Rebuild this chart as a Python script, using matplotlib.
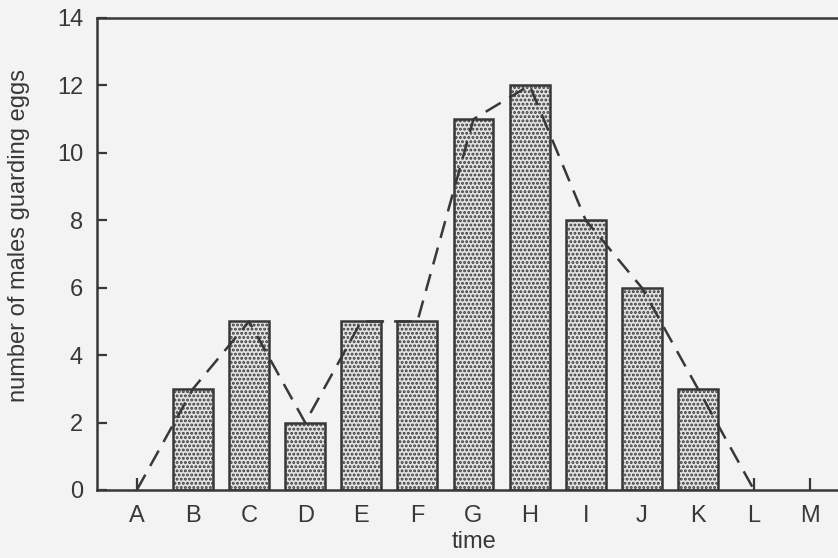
import matplotlib.pyplot as plt
import numpy as np

plt.rcParams['font.family'] = ['Liberation Sans', 'DejaVu Sans']

times = ['A', 'B', 'C', 'D', 'E', 'F', 'G', 'H', 'I', 'J', 'K', 'L', 'M']
males = [0, 3, 5, 2, 5, 5, 11, 12, 8, 6, 3, 0, 0]
# dashed trend line runs from A to L only
trend_labels = ['A', 'B', 'C', 'D', 'E', 'F', 'G', 'H', 'I', 'J', 'K', 'L']
trend = [0, 3, 5, 2, 5, 5, 11, 12, 8, 6, 3, 0]

ink = '#383838'
paper = '#f3f3f3'

fig = plt.figure(figsize=(8.38, 5.58), dpi=100, facecolor=paper)
W, H = 838, 558
# axes runs past the right edge, like the cropped scan
x0, x1 = 97, 850
ytop, ybot = 18, 490
ax = fig.add_axes([x0 / W, 1 - ybot / H, (x1 - x0) / W, (ybot - ytop) / H])
ax.set_facecolor(paper)

x = np.arange(len(times))
plt.rcParams['hatch.linewidth'] = 1.4
plt.rcParams['hatch.color'] = '#555555'
bars = ax.bar(x, males, width=0.71, facecolor='#e2e2e2', edgecolor=ink,
              linewidth=1.8, hatch='....', zorder=2)
for b, v in zip(bars, males):
    if v == 0:
        b.set_visible(False)

tx = [times.index(t) for t in trend_labels]
ax.plot(tx, trend, linestyle=(0, (7, 4)), color=ink, linewidth=1.8, zorder=3)

ax.set_xlim(-0.71, 12.71)
ax.set_ylim(0, 14)
ax.set_xticks(x)
ax.set_xticklabels(times)
ax.set_yticks(np.arange(0, 15, 2))

for s in ax.spines.values():
    s.set_color(ink)
    s.set_linewidth(1.8)

ax.tick_params(axis='y', direction='in', length=7, width=1.6, color=ink,
               labelcolor=ink, labelsize=17, pad=10)
ax.tick_params(axis='x', direction='in', length=9, width=1.6, color=ink,
               labelcolor=ink, labelsize=17, pad=11)

ax.set_xlabel('time', fontsize=17, color=ink, labelpad=3)
ax.set_ylabel('number of males guarding eggs', fontsize=17, color=ink)
ax.yaxis.set_label_coords(-0.089, 0.54)

fig.savefig('out.png', dpi=100, facecolor=paper)
